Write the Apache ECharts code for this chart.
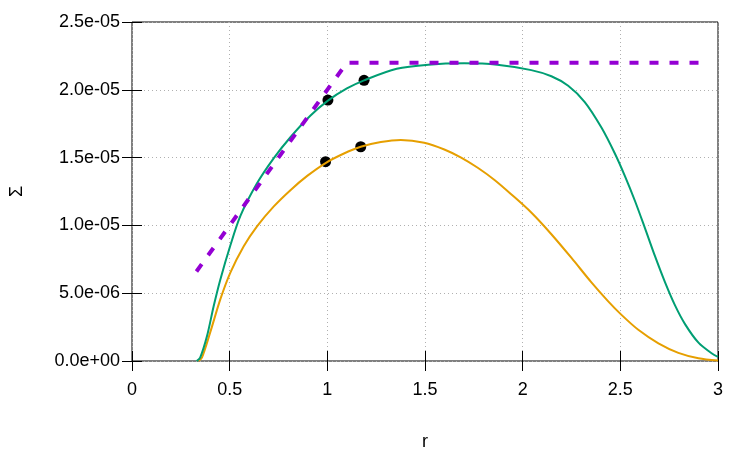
<!DOCTYPE html>
<html>
<head>
<meta charset="utf-8">
<script src="https://cdn.jsdelivr.net/npm/echarts@6/dist/echarts.min.js"></script>
<style>
  html, body { margin: 0; padding: 0; background: #fff; }
  #chart { width: 750px; height: 450px; }
</style>
</head>
<body>
<div id="chart"></div>
<script>
// values, sigma in units of 1e-6
const rGreen = [0.331, 0.349, 0.384, 0.418, 0.452, 0.503, 0.555, 0.64, 0.726, 0.811, 0.914, 1.003, 1.1, 1.188, 1.355, 1.517, 1.7, 1.87, 2.044, 2.147, 2.233, 2.318, 2.404, 2.472, 2.523, 2.575, 2.626, 2.677, 2.729, 2.78, 2.832, 2.9, 2.969, 3.0]
const sigmaGreen = [0, 0.25, 1.84, 4.04, 6.0, 8.5, 10.7, 13.1, 14.96, 16.5, 18.1, 19.2, 20.1, 20.7, 21.55, 21.85, 21.95, 21.85, 21.45, 21.0, 20.3, 19.1, 17.2, 15.3, 13.65, 11.8, 9.8, 7.75, 5.8, 4.1, 2.7, 1.35, 0.55, 0.3]

const rOrange = [0.34, 0.358, 0.4, 0.452, 0.503, 0.572, 0.64, 0.726, 0.811, 0.897, 0.991, 1.085, 1.171, 1.274, 1.376, 1.496, 1.599, 1.685, 1.77, 1.856, 1.941, 2.044, 2.147, 2.25, 2.352, 2.438, 2.506, 2.592, 2.695, 2.797, 2.9, 3.0]
const sigmaOrange = [0, 0.25, 2.09, 4.54, 6.5, 8.46, 9.93, 11.4, 12.6, 13.65, 14.6, 15.3, 15.8, 16.15, 16.3, 16.1, 15.6, 15.0, 14.25, 13.35, 12.3, 10.95, 9.35, 7.6, 5.8, 4.4, 3.4, 2.3, 1.3, 0.6, 0.2, 0.03]

const rLimit = [0.33, 1.1, 2.95]
const sigmaLimit = [6.6, 22.0, 22.0]

const rDots = [1.003, 1.188, 0.991, 1.171]
const sigmaDots = [19.24, 20.7, 14.7, 15.8]

const xTicks = [0, 0.5, 1, 1.5, 2, 2.5, 3]

const pairs = (xs, ys) => xs.map((x, i) => [x, ys[i] * 1e-6])

const font = 'Liberation Sans, Arial, sans-serif'
const sci = v => v.toExponential(1).replace(/e([+-])(\d)$/, 'e$10$2')

const gridLine = {show: true, lineStyle: {color: '#b0b0b0', type: [1, 3], width: 1}}
const tick = {show: true, inside: true, length: 10, lineStyle: {color: '#000', width: 1}}

const myChart = echarts.init(document.getElementById('chart'))
const option = {
    animation: false,
    grid: {
        left: 132, right: 32, top: 22, bottom: 89,
        containLabel: false, outerBoundsMode: 'none',
        show: true, borderColor: '#000', borderWidth: 1
    },
    xAxis: [
        {
            type: 'value', min: xTicks[0], max: xTicks[xTicks.length - 1], interval: 0.5,
            name: 'r', nameLocation: 'middle', nameGap: 72,
            nameTextStyle: {fontFamily: font, fontSize: 18, color: '#000'},
            axisLine: {show: false},
            axisTick: tick,
            splitLine: gridLine,
            axisLabel: {fontFamily: font, fontSize: 18, color: '#000', margin: 20}
        },
        {
            type: 'value', position: 'top', min: 0, max: 3, interval: 0.5,
            axisLine: {show: false}, axisTick: tick,
            splitLine: {show: false}, axisLabel: {show: false}
        }
    ],
    yAxis: [
        {
            type: 'value', min: 0, max: 2.5e-5, interval: 5e-6,
            name: 'Σ', nameLocation: 'middle', nameGap: 106,
            nameTextStyle: {fontFamily: font, fontSize: 18, color: '#000'},
            axisLine: {show: false},
            axisTick: tick,
            splitLine: gridLine,
            axisLabel: {fontFamily: font, fontSize: 18, color: '#000', margin: 12, formatter: sci}
        },
        {
            type: 'value', position: 'right', min: 0, max: 2.5e-5, interval: 5e-6,
            axisLine: {show: false}, axisTick: tick,
            splitLine: {show: false}, axisLabel: {show: false}
        }
    ],
    series: [
        {
            type: 'line', data: pairs(rOrange, sigmaOrange), smooth: 0.3,
            showSymbol: false, lineStyle: {color: '#e69f00', width: 2}
        },
        {
            type: 'line', data: pairs(rGreen, sigmaGreen), smooth: 0.3,
            showSymbol: false, lineStyle: {color: '#009e73', width: 2}
        },
        {
            type: 'line', data: pairs(rLimit, sigmaLimit),
            showSymbol: false, lineStyle: {color: '#9400d3', width: 4, type: [9, 11]}
        },
        {
            type: 'scatter', data: pairs(rDots, sigmaDots),
            symbolSize: 11, itemStyle: {color: '#000', opacity: 1}
        }
    ]
}
myChart.setOption(option)
</script>
</body>
</html>
